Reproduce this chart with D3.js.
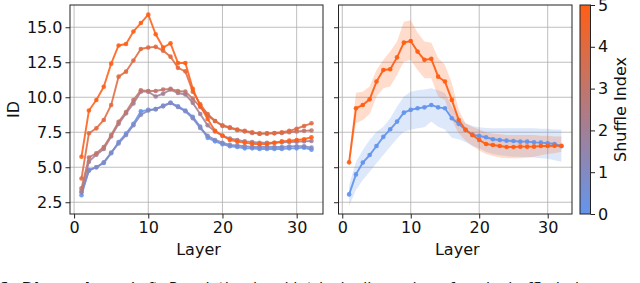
<!DOCTYPE html>
<html>
<head>
<meta charset="utf-8">
<script src="https://cdn.jsdelivr.net/npm/d3@7"></script>
<style>
  body { margin: 0; background: #fff; }
  svg { display: block; }
  text { font-family: "DejaVu Sans", sans-serif; }
</style>
</head>
<body>
<svg id="chart" width="640" height="283"></svg>
<script>
// layers 1..32
const layers = d3.range(1, 33);

// left panel: ID per layer for each shuffle index 0..5
const shuffle0 = [3.0, 4.8, 5.0, 5.3, 6.0, 6.8, 7.4, 8.1, 9.0, 9.1, 9.15, 9.4, 9.6, 9.35, 9.05, 8.6, 7.9, 7.1, 6.85, 6.65, 6.5, 6.45, 6.35, 6.35, 6.3, 6.3, 6.3, 6.3, 6.35, 6.35, 6.4, 6.25];
const shuffle1 = [3.2, 4.75, 5.0, 5.35, 6.05, 6.7, 7.3, 8.0, 8.75, 9.05, 9.15, 9.35, 9.6, 9.3, 9.0, 8.5, 7.8, 7.25, 6.95, 6.75, 6.6, 6.55, 6.5, 6.45, 6.45, 6.45, 6.45, 6.45, 6.48, 6.5, 6.5, 6.4];
const shuffle2 = [3.3, 5.4, 5.9, 6.3, 7.2, 8.1, 8.85, 9.55, 10.4, 10.4, 10.05, 10.25, 10.55, 10.3, 10.2, 9.6, 8.8, 8.0, 7.55, 7.25, 7.05, 6.95, 6.85, 6.8, 6.75, 6.75, 6.75, 6.78, 6.8, 6.82, 6.85, 6.88];
const shuffle3 = [3.5, 5.7, 6.0, 6.45, 7.3, 8.25, 8.95, 9.8, 10.5, 10.45, 10.45, 10.55, 10.6, 10.45, 10.4, 9.9, 9.3, 8.7, 8.3, 7.95, 7.8, 7.65, 7.55, 7.45, 7.4, 7.4, 7.42, 7.45, 7.5, 7.55, 7.6, 7.62];
const shuffle4 = [4.2, 7.43, 7.78, 8.38, 9.45, 11.47, 11.83, 12.62, 13.45, 13.55, 13.6, 13.33, 12.9, 12.1, 11.85, 10.4, 9.5, 8.8, 8.3, 8.0, 7.85, 7.7, 7.6, 7.5, 7.4, 7.42, 7.45, 7.5, 7.6, 7.75, 7.95, 8.14];
const shuffle5 = [5.75, 9.05, 9.8, 10.75, 12.4, 13.7, 13.8, 14.7, 15.3, 15.9, 14.5, 13.55, 13.85, 12.45, 12.45, 10.6, 9.4, 8.45, 7.6, 7.26, 6.95, 6.83, 6.76, 6.67, 6.65, 6.65, 6.75, 6.85, 6.9, 6.95, 7.0, 7.14];
const leftSeries = [shuffle0, shuffle1, shuffle2, shuffle3, shuffle4, shuffle5];

// right panel: mean and band for shuffle index 0 and 5
const blueMean = [3.06, 4.49, 5.33, 5.87, 6.52, 7.17, 7.71, 8.26, 8.9, 9.1, 9.21, 9.28, 9.45, 9.28, 9.21, 8.5, 8.1, 7.67, 7.31, 7.23, 7.14, 7.0, 6.95, 6.9, 6.87, 6.83, 6.83, 6.78, 6.76, 6.71, 6.66, 6.5];
const blueLow = [2.23, 3.37, 4.09, 4.68, 5.28, 5.87, 6.47, 7.06, 7.54, 7.67, 7.78, 7.85, 8.26, 7.9, 7.7, 7.1, 7.0, 6.8, 6.5, 6.35, 6.1, 5.95, 5.85, 5.8, 5.75, 5.75, 5.72, 5.7, 5.65, 5.6, 5.5, 5.4];
const blueHigh = [3.7, 5.4, 6.23, 6.95, 7.54, 7.9, 8.5, 9.33, 10.05, 10.4, 10.5, 10.55, 10.64, 10.5, 10.3, 9.33, 8.6, 8.14, 7.95, 7.86, 7.8, 7.78, 7.78, 7.78, 7.78, 7.78, 7.78, 7.78, 7.75, 7.75, 7.7, 7.7];
const orangeMean = [5.35, 9.21, 9.45, 9.85, 11.12, 11.95, 12.0, 12.85, 13.9, 14.02, 13.26, 12.67, 12.74, 11.47, 11.12, 9.81, 8.38, 7.67, 7.31, 6.95, 6.66, 6.59, 6.52, 6.45, 6.45, 6.47, 6.47, 6.47, 6.52, 6.52, 6.53, 6.54];
const orangeLow = [5.0, 8.14, 8.38, 8.8, 10.05, 10.64, 10.76, 11.6, 12.55, 12.67, 11.95, 11.36, 11.36, 10.05, 9.81, 8.38, 7.43, 6.9, 6.55, 6.2, 5.95, 5.8, 5.7, 5.65, 5.64, 5.65, 5.7, 5.75, 5.85, 5.95, 6.0, 6.1];
const orangeHigh = [5.7, 10.33, 10.4, 10.76, 11.95, 12.67, 13.26, 13.98, 15.4, 15.5, 14.6, 13.98, 13.9, 12.8, 12.3, 11.0, 9.1, 8.14, 7.9, 7.7, 7.5, 7.4, 7.35, 7.3, 7.3, 7.3, 7.3, 7.3, 7.25, 7.25, 7.2, 7.2];

const xTicks = [0, 10, 20, 30];
const yTicks = [2.5, 5.0, 7.5, 10.0, 12.5, 15.0];
const cbarTicks = [0, 1, 2, 3, 4, 5];

const svg = d3.select("#chart");
const cmap = d3.scaleLinear().domain([0, 5]).range(["#6495ED", "#FF5F15"]).interpolate(d3.interpolateRgb);

const plotTop = 5, plotBottom = 214;
const y = d3.scaleLinear().domain([1.66, 16.59]).range([plotBottom, plotTop]);
const xL = d3.scaleLinear().domain([-0.55, 33.55]).range([70, 323]);
const xR = d3.scaleLinear().domain([-0.55, 33.55]).range([338.5, 572]);

function panel(x, showYLabels) {
  const g = svg.append("g");
  // grid
  g.selectAll(".gx").data(xTicks).join("line")
    .attr("x1", d => x(d)).attr("x2", d => x(d)).attr("y1", plotTop).attr("y2", plotBottom)
    .attr("stroke", "#b0b0b0").attr("stroke-width", 1).attr("opacity", 0.8);
  g.selectAll(".gy").data(yTicks).join("line")
    .attr("x1", x.range()[0]).attr("x2", x.range()[1]).attr("y1", d => y(d)).attr("y2", d => y(d))
    .attr("stroke", "#b0b0b0").attr("stroke-width", 1).attr("opacity", 0.8);

  const xa = g.append("g").attr("transform", `translate(0,${plotBottom})`)
    .call(d3.axisBottom(x).tickValues(xTicks).tickFormat(d3.format("d")).tickSize(4.5).tickPadding(3));
  const ya = g.append("g").attr("transform", `translate(${x.range()[0]},0)`)
    .call(d3.axisLeft(y).tickValues(yTicks).tickFormat(showYLabels ? d3.format(".1f") : "").tickSize(4.5).tickPadding(3));
  [xa, ya].forEach(a => {
    a.select(".domain").remove();
    a.selectAll("line").attr("stroke", "#222");
    a.selectAll("text").attr("font-size", 16).attr("fill", "#111");
  });
  g.append("text").attr("x", (x.range()[0] + x.range()[1]) / 2 + 2).attr("y", 255)
    .attr("text-anchor", "middle").attr("font-size", 16).attr("fill", "#111").text("Layer");
  return g;
}

function frame(x) {
  svg.append("rect").attr("x", x.range()[0]).attr("y", plotTop)
    .attr("width", x.range()[1] - x.range()[0]).attr("height", plotBottom - plotTop)
    .attr("fill", "none").attr("stroke", "#222").attr("stroke-width", 1);
}

function drawLine(g, x, values, color, alpha) {
  const pts = layers.map((l, i) => [l, values[i]]);
  g.append("path").datum(pts)
    .attr("d", d3.line().x(d => x(d[0])).y(d => y(d[1])))
    .attr("fill", "none").attr("stroke", color).attr("stroke-width", 1.9).attr("opacity", alpha);
  g.selectAll(null).data(pts).join("circle")
    .attr("cx", d => x(d[0])).attr("cy", d => y(d[1])).attr("r", 2.3)
    .attr("fill", color).attr("opacity", alpha);
}

// left panel
const gL = panel(xL, true);
leftSeries.forEach((s, i) => drawLine(gL, xL, s, cmap(i), 0.88));
frame(xL);
svg.append("text").attr("transform", `translate(19,${(plotTop + plotBottom) / 2}) rotate(-90)`)
  .attr("text-anchor", "middle").attr("font-size", 16).attr("fill", "#111").text("ID");

// right panel
const gR = panel(xR, false);
const band = (lo, hi) => layers.map((l, i) => [l, lo[i], hi[i]]);
const area = d3.area().x(d => xR(d[0])).y0(d => y(d[1])).y1(d => y(d[2]));
gR.append("path").datum(band(blueLow, blueHigh)).attr("d", area).attr("fill", cmap(0)).attr("opacity", 0.22);
gR.append("path").datum(band(orangeLow, orangeHigh)).attr("d", area).attr("fill", cmap(5)).attr("opacity", 0.22);
drawLine(gR, xR, blueMean, cmap(0), 0.95);
drawLine(gR, xR, orangeMean, cmap(5), 0.95);
frame(xR);

// colorbar
const cbX = 580, cbW = 10.5;
const cy = d3.scaleLinear().domain([0, 5]).range([plotBottom, plotTop]);
const defs = svg.append("defs");
const grad = defs.append("linearGradient").attr("id", "cb").attr("x1", 0).attr("y1", 1).attr("x2", 0).attr("y2", 0);
grad.selectAll("stop").data(d3.range(0, 1.01, 0.1)).join("stop")
  .attr("offset", d => d).attr("stop-color", d => cmap(d * 5));
svg.append("rect").attr("x", cbX).attr("y", plotTop).attr("width", cbW).attr("height", plotBottom - plotTop)
  .attr("fill", "url(#cb)").attr("stroke", "#222").attr("stroke-width", 1);
const ca = svg.append("g").attr("transform", `translate(${cbX + cbW},0)`)
  .call(d3.axisRight(cy).tickValues(cbarTicks).tickFormat(d3.format("d")).tickSize(4.5).tickPadding(3));
ca.select(".domain").remove();
ca.selectAll("line").attr("stroke", "#222");
ca.selectAll("text").attr("font-size", 16).attr("fill", "#111");
svg.append("text").attr("transform", `translate(626,${(plotTop + plotBottom) / 2}) rotate(-90)`)
  .attr("text-anchor", "middle").attr("font-size", 16).attr("fill", "#111").text("Shuffle Index");

// cut-off caption at the bottom (only the top of the glyphs shows)
const cap = svg.append("text").attr("x", 0).attr("y", 294)
  .attr("font-family", "'Liberation Serif', serif").attr("font-size", 15).attr("fill", "#111");
cap.append("tspan").attr("font-weight", "bold").text("1: Dimensions. ");
cap.append("tspan").text("Left: Population-level intrinsic dimension of each shuffle index across the layers of the model");
</script>
</body>
</html>
